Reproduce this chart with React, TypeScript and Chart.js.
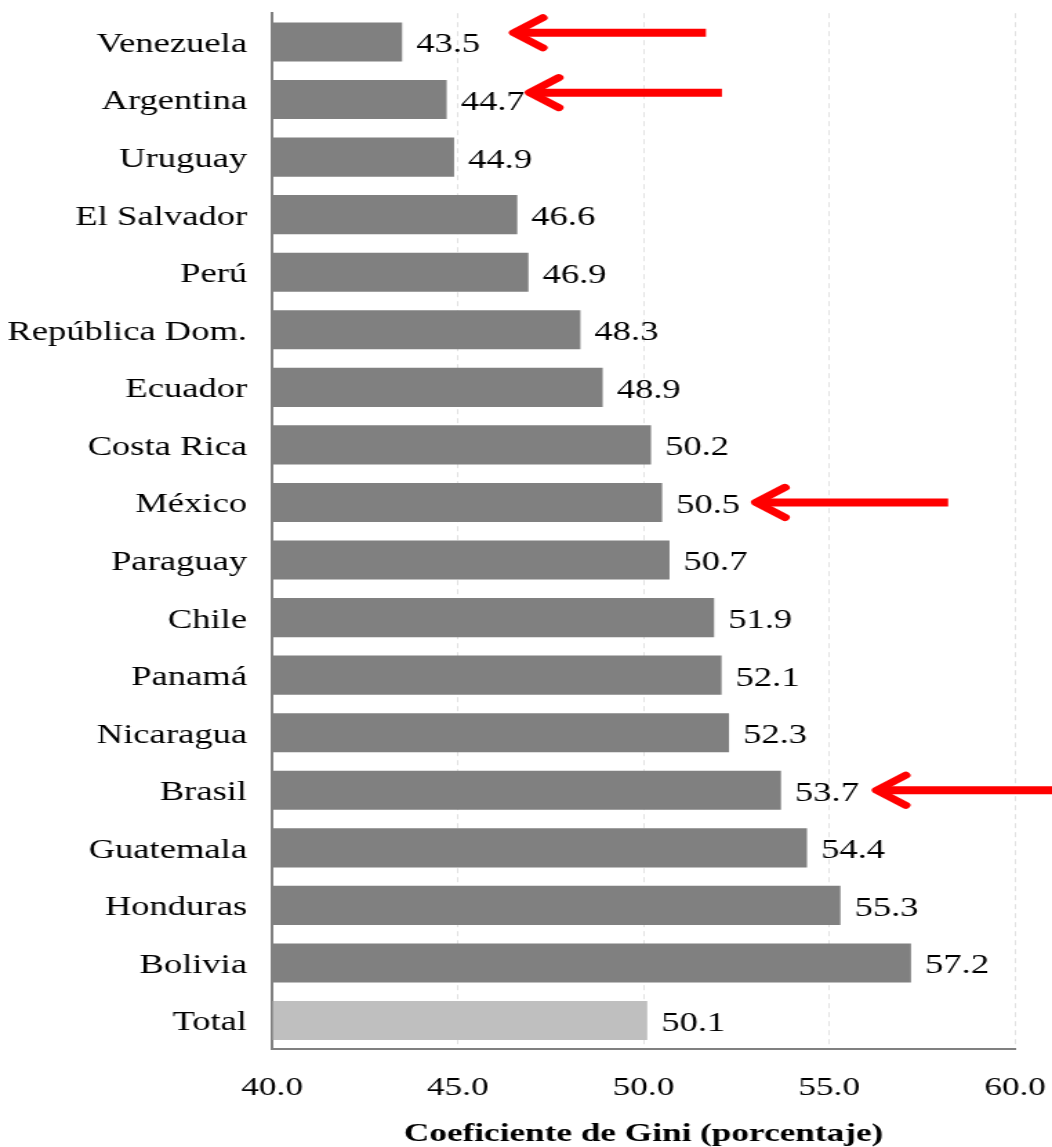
import React, { useEffect, useRef } from "react";
import { Chart, registerables } from "chart.js";

Chart.register(...registerables);

// ---- data ----
const countries = [
  "Venezuela",
  "Argentina",
  "Uruguay",
  "El Salvador",
  "Perú",
  "República Dom.",
  "Ecuador",
  "Costa Rica",
  "México",
  "Paraguay",
  "Chile",
  "Panamá",
  "Nicaragua",
  "Brasil",
  "Guatemala",
  "Honduras",
  "Bolivia",
  "Total",
];
const gini = [
  43.5, 44.7, 44.9, 46.6, 46.9, 48.3, 48.9, 50.2, 50.5, 50.7, 51.9, 52.1, 52.3,
  53.7, 54.4, 55.3, 57.2, 50.1,
];
const xTicks = [40, 45, 50, 55, 60];
const axisTitle = "Coeficiente de Gini (porcentaje)";

// red arrows (annotations): which category, tip and tail in axis units, vertical shift in rows
const arrowCountries = ["Venezuela", "Argentina", "México", "Brasil"];
const arrowTip = [46.43, 46.86, 52.95, 56.2];
const arrowTail = [51.68, 52.11, 58.2, 61.5];
const arrowShift = [-0.16, -0.12, 0, 0];

// ---- styling ----
const SX = 1.38; // horizontal stretch of the whole drawing
const PAGE_W = 1052;
const PAGE_H = 1147;
const CW = Math.round(PAGE_W / SX);
const FONT = '"Liberation Serif", "Times New Roman", serif';
const DARK = "#808080";
const LIGHT = "#BFBFBF";

function noPad(scale: any) {
  scale.paddingTop = 0;
  scale.paddingBottom = 0;
  scale.paddingLeft = 0;
  scale.paddingRight = 0;
}

export default function App() {
  const ref = useRef<HTMLCanvasElement | null>(null);

  useEffect(() => {
    const canvas = ref.current;
    if (!canvas) return;

    const valueLabels = {
      id: "valueLabels",
      afterDatasetsDraw(chart: any) {
        const ctx = chart.ctx;
        const meta = chart.getDatasetMeta(0);
        ctx.save();
        ctx.font = `26.5px ${FONT}`;
        ctx.fillStyle = "#000";
        ctx.textAlign = "left";
        ctx.textBaseline = "middle";
        meta.data.forEach((bar: any, i: number) => {
          ctx.fillText(gini[i].toFixed(1), bar.x + 14 / SX, bar.y + 3.5);
        });
        ctx.restore();
      },
    };

    const arrows = {
      id: "arrows",
      afterDraw(chart: any) {
        const ctx = chart.ctx;
        const xs = chart.scales.x;
        const ys = chart.scales.y;
        const row = ys.getPixelForValue(1) - ys.getPixelForValue(0);
        const back = 29 / SX;
        ctx.save();
        ctx.strokeStyle = "#FF0000";
        arrowCountries.forEach((c, k) => {
          const idx = countries.indexOf(c);
          const y = ys.getPixelForValue(idx) + arrowShift[k] * row;
          const xt = xs.getPixelForValue(arrowTip[k]);
          const xe = xs.getPixelForValue(arrowTail[k]);
          ctx.lineWidth = 8;
          ctx.lineCap = "butt";
          ctx.beginPath();
          ctx.moveTo(xt + 3, y);
          ctx.lineTo(xe, y);
          ctx.stroke();
          ctx.lineCap = "round";
          ctx.lineJoin = "round";
          ctx.lineWidth = 7;
          ctx.beginPath();
          ctx.moveTo(xt + 2 + back, y - 15);
          ctx.lineTo(xt + 2, y);
          ctx.lineTo(xt + 2 + back, y + 15);
          ctx.stroke();
        });
        ctx.restore();
      },
    };

    const chart = new Chart(canvas, {
      type: "bar",
      data: {
        labels: countries,
        datasets: [
          {
            data: gini,
            backgroundColor: countries.map((c) => (c === "Total" ? LIGHT : DARK)),
            borderWidth: 0,
            barPercentage: 0.68,
            categoryPercentage: 1,
            base: 40,
          },
        ],
      },
      options: {
        indexAxis: "y",
        responsive: false,
        animation: false,
        devicePixelRatio: 1,
        layout: { padding: { top: 13.2, right: (PAGE_W - 1015) / SX, left: 0, bottom: 0 } },
        plugins: {
          legend: { display: false },
          tooltip: { enabled: false },
        },
        scales: {
          x: {
            min: 40,
            max: 60,
            afterBuildTicks(scale: any) {
              scale.ticks = xTicks.map((v) => ({ value: v }));
            },
            afterFit(scale: any) {
              scale.height = PAGE_H - 1049.3;
              noPad(scale);
            },
            ticks: {
              callback: (v: any) => Number(v).toFixed(1),
              font: { family: FONT, size: 25.5 },
              color: "#000",
              padding: 24,
              maxRotation: 0,
            },
            grid: {
              color: "#E2E2E2",
              lineWidth: 1,
              drawTicks: false,
            },
            border: { display: true, color: DARK, width: 2, dash: [5, 4] },
            title: {
              display: true,
              text: axisTitle,
              font: { family: FONT, size: 25.5, weight: "bold", lineHeight: 1.0 },
              color: "#000",
              padding: { top: 0, bottom: 0 },
            },
          },
          y: {
            afterFit(scale: any) {
              scale.width = 272 / SX;
              noPad(scale);
            },
            ticks: {
              autoSkip: false,
              font: { family: FONT, size: 26.5 },
              color: "#000",
              padding: 25 / SX,
              labelOffset: 3,
            },
            grid: { display: false, drawTicks: false },
            border: { display: true, color: DARK, width: 2 },
          },
        },
      },
      plugins: [valueLabels, arrows],
    } as any);

    return () => chart.destroy();
  }, []);

  return (
    <div style={{ position: "absolute", left: 0, top: 0, width: PAGE_W, height: PAGE_H, background: "#fff" }}>
      <canvas
        ref={ref}
        width={CW}
        height={PAGE_H}
        style={{ width: `${PAGE_W}px`, height: `${PAGE_H}px`, display: "block" }}
      />
    </div>
  );
}
